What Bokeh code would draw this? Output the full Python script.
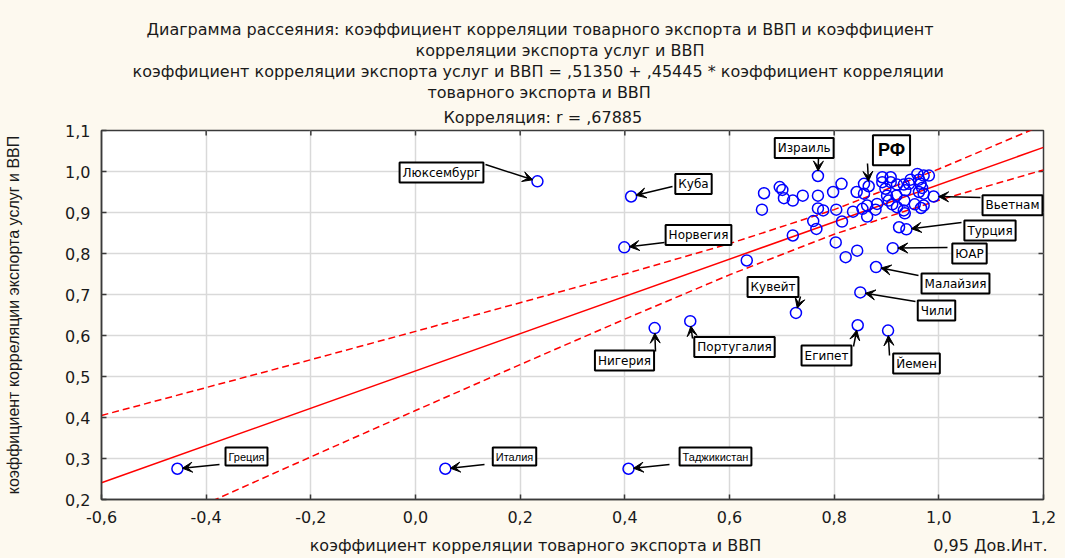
import math
from bokeh.plotting import figure
from bokeh.models import Label, Arrow, VeeHead, LinearAxis, Range1d, FixedTicker, Title
from bokeh.embed import file_html
from bokeh.resources import INLINE

# ---------------- data ----------------
x_ticks = [-0.6, -0.4, -0.2, 0.0, 0.2, 0.4, 0.6, 0.8, 1.0, 1.2]
x_tick_labels = ["-0,6", "-0,4", "-0,2", "0,0", "0,2", "0,4", "0,6", "0,8", "1,0", "1,2"]
y_ticks = [0.2, 0.3, 0.4, 0.5, 0.6, 0.7, 0.8, 0.9, 1.0, 1.1]
y_tick_labels = ["0,2", "0,3", "0,4", "0,5", "0,6", "0,7", "0,8", "0,9", "1,0", "1,1"]

named_countries = ["Греция", "Италия", "Таджикистан", "Люксембург", "Куба", "Норвегия",
                   "Нигерия", "Португалия", "Кувейт", "Чили", "Египет", "Йемен",
                   "Малайзия", "ЮАР", "Турция", "Вьетнам", "Израиль", "РФ"]
named_x = [-0.455, 0.057, 0.407, 0.233, 0.412, 0.399, 0.457, 0.525, 0.727, 0.850,
           0.845, 0.903, 0.880, 0.912, 0.938, 0.990, 0.769, 0.866]
named_y = [0.275, 0.275, 0.275, 0.976, 0.939, 0.815, 0.618, 0.635, 0.655, 0.705,
           0.625, 0.612, 0.767, 0.813, 0.859, 0.939, 0.989, 0.964]

other_x = [0.666, 0.662, 0.696, 0.701, 0.704, 0.721, 0.740, 0.769, 0.769, 0.779,
           0.798, 0.804, 0.814, 0.760, 0.766, 0.721, 0.803, 0.815, 0.822, 0.844,
           0.843, 0.857, 0.857, 0.836, 0.854, 0.863, 0.863, 0.882, 0.879, 0.892,
           0.908, 0.892, 0.908, 0.898, 0.901, 0.904, 0.911, 0.920, 0.933, 0.936,
           0.943, 0.946, 0.959, 0.971, 0.981, 0.962, 0.965, 0.968, 0.962, 0.971,
           0.934, 0.919, 0.920, 0.933, 0.935, 0.954, 0.966, 0.971, 0.924, 0.633]
other_y = [0.947, 0.907, 0.962, 0.955, 0.935, 0.929, 0.941, 0.941, 0.910, 0.905,
           0.950, 0.907, 0.970, 0.879, 0.860, 0.844, 0.827, 0.878, 0.791, 0.807,
           0.950, 0.970, 0.946, 0.902, 0.909, 0.917, 0.890, 0.921, 0.907, 0.986,
           0.986, 0.974, 0.974, 0.958, 0.941, 0.929, 0.920, 0.968, 0.968, 0.954,
           0.970, 0.980, 0.994, 0.990, 0.990, 0.980, 0.970, 0.960, 0.950, 0.946,
           0.929, 0.941, 0.913, 0.905, 0.898, 0.920, 0.911, 0.917, 0.864, 0.783]

reg_intercept = 0.51350
reg_slope = 0.45445

band_x = [-0.6, -0.4, -0.2, 0.0, 0.2, 0.4, 0.6, 0.8, 1.0, 1.2]
band_upper = [0.405, 0.473, 0.541, 0.610, 0.680, 0.750, 0.824, 0.907, 1.006, 1.114]
band_lower = [0.077, 0.190, 0.304, 0.417, 0.529, 0.640, 0.748, 0.847, 0.930, 1.004]

title_lines = [
    "Диаграмма рассеяния: коэффициент корреляции товарного экспорта и ВВП  и  коэффициент",
    "корреляции экспорта услуг и ВВП",
    "коэффициент корреляции экспорта услуг и ВВП = ,51350 + ,45445 * коэффициент корреляции",
    "товарного экспорта и ВВП",
    "Корреляция: r =  ,67885",
]
x_label = "коэффициент корреляции товарного экспорта и ВВП"
y_label = "коэффициент корреляции экспорта услуг и ВВП"
legend_text = "0,95 Дов.Инт."

# ---------------- layout ----------------
W, H = 1065, 558
FL, FR, FT, FB = 101, 1043, 130, 499          # frame edges in px
XMIN, XMAX, YMIN, YMAX = -0.6, 1.2, 0.2, 1.1
SX = (FR - FL) / (XMAX - XMIN)
SY = (FB - FT) / (YMAX - YMIN)


def px2x(wx):
    return XMIN + (wx - FL) / SX


def px2y(wy):
    return YMAX - (wy - FT) / SY


CREAM = "#fdf9ef"
FONT = "Liberation Sans"
WIDE = "DejaVu Sans"
INK = "#1a1a1a"
AXC = "#3a3a3a"

# annotation boxes: name -> (box centre px x, y, arrow start px x, y)
ann_layout = {
    "Люксембург": (441, 172, 485, 164),
    "Куба": (693, 183.5, 672, 186),
    "Норвегия": (698, 234.5, 664, 242),
    "Нигерия": (624, 360, 655, 351),
    "Португалия": (734, 346.6, 692, 338),
    "Кувейт": (772.5, 286.6, 800, 296),
    "Чили": (936, 310, 915, 301),
    "Египет": (826, 355, 853, 346),
    "Йемен": (916, 363, 889, 355),
    "Малайзия": (955, 283, 918, 275),
    "ЮАР": (969, 253, 947, 247),
    "Турция": (989.5, 230, 961, 222),
    "Вьетнам": (1012, 204.7, 980, 197),
    "Израиль": (803.7, 147.5, 818, 157),
    "РФ": (891, 149.7, 867, 163),
    "Греция": (246, 456, 219, 464),
    "Италия": (514, 456, 484, 464),
    "Таджикистан": (715, 456, 669, 464),
}
small_boxes = {"Греция", "Италия", "Таджикистан"}

p = figure(width=W, height=H, x_range=Range1d(XMIN, XMAX), y_range=Range1d(YMIN, YMAX),
           output_backend="svg", toolbar_location=None,
           background_fill_color="white", border_fill_color=CREAM,
           min_border_left=FL, min_border_right=W - FR, min_border_top=FT, min_border_bottom=H - FB)
p.outline_line_color = AXC
p.outline_line_width = 1.5

for ax, ticks, labels in ((p.xaxis[0], x_ticks, x_tick_labels), (p.yaxis[0], y_ticks, y_tick_labels)):
    ax.ticker = FixedTicker(ticks=ticks)
    ax.major_label_overrides = {t: l for t, l in zip(ticks, labels)}
    ax.major_tick_in = 5
    ax.major_tick_out = 0
    ax.minor_tick_line_color = None
    ax.axis_line_color = AXC
    ax.axis_line_width = 1.5
    ax.major_tick_line_color = AXC
    ax.major_tick_line_width = 1.5
    ax.major_label_text_font = WIDE
    ax.major_label_text_font_size = "16px"
    ax.major_label_text_color = INK
    ax.major_label_standoff = 11

# y axis title
p.yaxis[0].axis_label = y_label
p.yaxis[0].axis_label_text_font = FONT
p.yaxis[0].axis_label_text_font_size = "16px"
p.yaxis[0].axis_label_text_font_style = "normal"
p.yaxis[0].axis_label_text_color = INK
p.yaxis[0].axis_label_standoff = 40

# second row under the x axis: x title and confidence-interval legend text
x_title_pos = px2x(535)
legend_pos = px2x(990)
under = LinearAxis(ticker=FixedTicker(ticks=[x_title_pos, legend_pos]),
                   major_label_overrides={x_title_pos: x_label, legend_pos: legend_text},
                   axis_line_color=None, major_tick_line_color=None, minor_tick_line_color=None,
                   major_tick_in=0, major_tick_out=0, major_label_standoff=10,
                   major_label_text_font=WIDE, major_label_text_font_size="16px",
                   major_label_text_color=INK)
p.add_layout(under, "below")

# inward ticks on the top and right frame edges
p.segment(x0=x_ticks[1:-1], y0=[YMAX] * (len(x_ticks) - 2), x1=x_ticks[1:-1],
          y1=[YMAX - 5 / SY] * (len(x_ticks) - 2), line_color=AXC, line_width=1.5)
p.segment(x0=[XMAX] * (len(y_ticks) - 2), y0=y_ticks[1:-1], x1=[XMAX - 5 / SX] * (len(y_ticks) - 2),
          y1=y_ticks[1:-1], line_color=AXC, line_width=1.5)

p.xgrid.ticker = FixedTicker(ticks=x_ticks)
p.ygrid.ticker = FixedTicker(ticks=y_ticks)
p.xgrid.grid_line_color = "#d9d9d9"
p.ygrid.grid_line_color = "#d9d9d9"
p.xgrid.grid_line_width = 1.5
p.ygrid.grid_line_width = 1.5

# regression line and confidence band
p.line([XMIN, XMAX], [reg_intercept + reg_slope * XMIN, reg_intercept + reg_slope * XMAX],
       line_color="red", line_width=1.5)
p.line(band_x, band_upper, line_color="red", line_width=1.5, line_dash="7 4")
p.line(band_x, band_lower, line_color="red", line_width=1.5, line_dash="7 4")

# points
p.scatter(other_x + named_x, other_y + named_y, marker="circle", size=11,
          fill_color=None, line_color="blue", line_width=1.5)

# annotations
for name, px_, py_ in zip(named_countries, named_x, named_y):
    bx, by, sx0, sy0 = ann_layout[name]
    ax_, ay_ = px2x(sx0), px2y(sy0)
    dxp, dyp = (ax_ - px_) * SX, (ay_ - py_) * SY
    L = math.hypot(dxp, dyp)
    ex, ey = px_ + dxp / L * 5 / SX, py_ + dyp / L * 5 / SY
    p.add_layout(Arrow(end=VeeHead(size=10, fill_color="black", line_color="black", line_width=1),
                       x_start=ax_, y_start=ay_, x_end=ex, y_end=ey,
                       line_color="black", line_width=1.5))
    if name == "РФ":
        fs, ff, fst, pad = "18px", FONT, "bold", 5
    elif name in small_boxes:
        fs, ff, fst, pad = "11px", FONT, "normal", 3
    else:
        fs, ff, fst, pad = "12px", WIDE, "normal", 3
    p.add_layout(Label(x=px2x(bx), y=px2y(by), text=name, text_align="center", text_baseline="middle",
                       text_font=ff, text_font_size=fs, text_font_style=fst, text_color="black",
                       background_fill_color="white", border_line_color="black", border_line_width=2,
                       padding=pad))

# titles (innermost first); left offsets place each line's centre near x = 538 px
title_offsets = [45, 314, 31, 326, 342]
title_standoffs = [0, 0, 0, 0, 8]
for line, off, so in zip(reversed(title_lines), reversed(title_offsets), reversed(title_standoffs)):
    p.add_layout(Title(text=line, align="left", offset=off, standoff=so,
                       text_font=WIDE, text_font_size="16px", text_font_style="normal",
                       text_color=INK), "above")

html = file_html(p, INLINE)
html = html.replace("</head>", "<style>html,body{background:%s;}</style></head>" % CREAM, 1)
open("out.html", "w").write(html)
